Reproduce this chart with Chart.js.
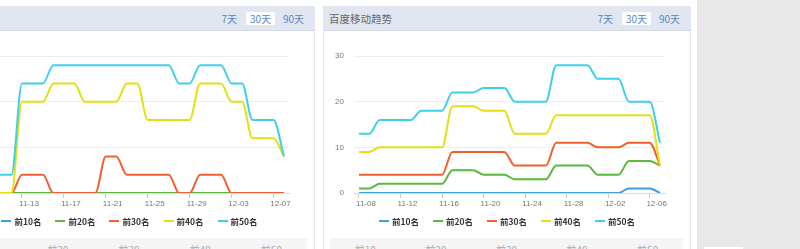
<!DOCTYPE html>
<html lang="zh">
<head>
<meta charset="utf-8">
<title>趋势</title>
<script src="https://cdn.jsdelivr.net/npm/chart.js@4.4.1/dist/chart.umd.min.js"></script>
<style>
  body { margin: 0; width: 800px; height: 249px; overflow: hidden; position: relative; background: #fff; font-family: "Noto Sans CJK SC", sans-serif; }
  .gray-side { position: absolute; left: 697px; top: 0; width: 103px; height: 249px; background: #e8e8e8; }
  .gray-side .tab { position: absolute; left: 7px; top: 247px; width: 39px; height: 10px; background: #fff; }
  .panel { position: absolute; top: 6px; height: 260px; background: #fff; box-shadow: inset 1px 0 #e4e8ee, inset -1px 0 #e4e8ee; }
  .head { position: absolute; left: 0; right: 0; top: 0; height: 24px; background: #e1e6f0; border-bottom: 1px solid #d3dae7; }
  .head .title { position: absolute; left: 6px; top: 0; line-height: 25px; font-size: 10.5px; color: #666; }
  .head .btn { position: absolute; top: 6px; height: 13px; line-height: 13px; font-size: 10px; color: #5b87c4; text-align: center; }
  .head .b7 { right: 78px; }
  .head .b30 { right: 40px; width: 29px; background: #fff; border-radius: 2px; }
  .head .b90 { right: 11px; }
  .panel canvas { position: absolute; left: 0; top: 25px; }
  .legend { position: absolute; left: 0; right: 0; top: 209px; height: 12px; display: flex; justify-content: center; align-items: center; font-size: 8.5px; font-weight: bold; color: #333; }
  .legend .item { display: flex; align-items: center; margin: 0 7px; }
  .legend i { display: inline-block; width: 10px; height: 2px; margin-right: 3px; }
  .foot { position: absolute; left: 7px; right: 8px; top: 232px; height: 30px; background: #f5f5f5; display: flex; }
  .foot div { flex: 1; text-align: center; font-size: 10px; color: #aaa; padding-top: 4px; }
</style>
</head>
<body>
<div class="panel" id="left-panel" style="left:-56px;width:371px;">
  <div class="head">
    <span class="title">百度趋势</span>
    <span class="btn b7">7天</span>
    <span class="btn b30">30天</span>
    <span class="btn b90">90天</span>
  </div>
  <canvas id="leftChart" width="371" height="185"></canvas>
  <div class="legend" id="left-legend"></div>
  <div class="foot"><div>前10</div><div>前20</div><div>前30</div><div>前40</div><div>前50</div></div>
</div>

<div class="panel" id="right-panel" style="left:323px;width:368px;">
  <div class="head">
    <span class="title">百度移动趋势</span>
    <span class="btn b7">7天</span>
    <span class="btn b30">30天</span>
    <span class="btn b90">90天</span>
  </div>
  <canvas id="rightChart" width="368" height="185"></canvas>
  <div class="legend" id="right-legend"></div>
  <div class="foot"><div>前10</div><div>前20</div><div>前30</div><div>前40</div><div>前50</div></div>
</div>

<div class="gray-side"><div class="tab"></div></div>

<script>
const seriesNames = ['前10名', '前20名', '前30名', '前40名', '前50名'];
const seriesColors = ['#3d9fe3', '#58b93e', '#f25f2c', '#e3df12', '#3dd0ea'];

const leftDates = ['11-09', '11-10', '11-11', '11-12', '11-13', '11-14', '11-15', '11-16', '11-17', '11-18',
    '11-19', '11-20', '11-21', '11-22', '11-23', '11-24', '11-25', '11-26', '11-27', '11-28',
    '11-29', '11-30', '12-01', '12-02', '12-03', '12-04', '12-05', '12-06', '12-07', '12-08'];
const rightDates = ['11-08', '11-09', '11-10', '11-11', '11-12', '11-13', '11-14', '11-15', '11-16', '11-17',
    '11-18', '11-19', '11-20', '11-21', '11-22', '11-23', '11-24', '11-25', '11-26', '11-27',
    '11-28', '11-29', '11-30', '12-01', '12-02', '12-03', '12-04', '12-05', '12-06', '12-07'];

const yTicks = [0, 10, 20, 30];
const xTickDays = [0, 4, 8, 12, 16, 20, 24, 28];

// left panel
const leftTop10 = [0, 0, 0, 0, 0, 0, 0, 0, 0, 0, 0, 0, 0, 0, 0, 0, 0, 0, 0, 0, 0, 0, 0, 0, 0, 0, 0, 0, 0, 0];
const leftTop20 = [0, 0, 0, 0, 0, 0, 0, 0, 0, 0, 0, 0, 0, 0, 0, 0, 0, 0, 0, 0, 0, 0, 0, 0, 0, 0, 0, 0, 0, 0];
const leftTop30 = [0, 0, 0, 0, 4, 4, 4, 0, 0, 0, 0, 0, 8, 8, 4, 4, 4, 4, 4, 0, 0, 4, 4, 4, 0, 0, 0, 0, 0, 0];
const leftTop40 = [0, 0, 0, 0, 20, 20, 20, 24, 24, 24, 20, 20, 20, 20, 24, 24, 16, 16, 16, 16, 16, 24, 24, 24, 20, 20, 12, 12, 12, 8];
const leftTop50 = [4, 4, 4, 4, 24, 24, 24, 28, 28, 28, 28, 28, 28, 28, 28, 28, 28, 28, 28, 24, 24, 28, 28, 28, 24, 24, 16, 16, 16, 8];

// right panel
const rightTop10 = [0, 0, 0, 0, 0, 0, 0, 0, 0, 0, 0, 0, 0, 0, 0, 0, 0, 0, 0, 0, 0, 0, 0, 0, 0, 0, 1, 1, 1, 0];
const rightTop20 = [1, 1, 2, 2, 2, 2, 2, 2, 2, 5, 5, 5, 4, 4, 4, 3, 3, 3, 3, 6, 6, 6, 6, 4, 4, 4, 7, 7, 7, 6];
const rightTop30 = [4, 4, 4, 4, 4, 4, 4, 4, 4, 9, 9, 9, 9, 9, 9, 6, 6, 6, 6, 11, 11, 11, 11, 10, 10, 10, 11, 11, 11, 6];
const rightTop40 = [9, 9, 10, 10, 10, 10, 10, 10, 10, 19, 19, 19, 18, 18, 18, 13, 13, 13, 13, 17, 17, 17, 17, 17, 17, 17, 17, 17, 17, 6];
const rightTop50 = [13, 13, 16, 16, 16, 16, 18, 18, 18, 22, 22, 22, 23, 23, 23, 20, 20, 20, 20, 28, 28, 28, 28, 25, 25, 25, 20, 20, 20, 11];

const tickFont = { family: 'Liberation Sans', size: 8 };

function buildLegend(id) {
    const box = document.getElementById(id);
    seriesNames.forEach((name, i) => {
        const item = document.createElement('span');
        item.className = 'item';
        item.innerHTML = '<i style="background:' + seriesColors[i] + '"></i>' + name;
        box.appendChild(item);
    });
}

function makeChart(canvasId, dates, series) {
    const ctx = document.getElementById(canvasId).getContext('2d');
    return new Chart(ctx, {
        type: 'line',
        data: {
            datasets: series.map((values, i) => ({
                label: seriesNames[i],
                data: values.map((v, day) => ({ x: day, y: v })),
                borderColor: seriesColors[i],
                backgroundColor: seriesColors[i],
                borderWidth: 2,
                pointRadius: 0,
                fill: false,
                cubicInterpolationMode: 'monotone',
                // later series on top, like the original
                order: series.length - 1 - i
            }))
        },
        options: {
            responsive: false,
            animation: false,
            events: [],
            layout: { padding: { top: 25, right: 26, left: 0, bottom: 0 } },
            plugins: {
                legend: { display: false },
                tooltip: { enabled: false }
            },
            scales: {
                x: {
                    type: 'linear',
                    min: -0.48,
                    max: dates.length - 1 + 0.48,
                    afterBuildTicks: (scale) => { scale.ticks = xTickDays.map(v => ({ value: v })); },
                    afterFit: (scale) => { scale.height = 23; },
                    grid: { drawOnChartArea: false, tickLength: 5, color: '#cccccc' },
                    border: { color: '#dddddd' },
                    ticks: {
                        callback: (value) => dates[value],
                        labelOffset: 7,
                        padding: 1,
                        maxRotation: 0,
                        autoSkip: false,
                        color: '#777',
                        font: tickFont
                    }
                },
                y: {
                    min: 0,
                    max: 30,
                    afterBuildTicks: (scale) => { scale.ticks = yTicks.map(v => ({ value: v })); },
                    afterFit: (scale) => { scale.width = 31; },
                    grid: { color: '#eeeeee', drawTicks: false },
                    border: { display: false },
                    ticks: { padding: 10, color: '#777', font: tickFont }
                }
            }
        }
    });
}

buildLegend('left-legend');
buildLegend('right-legend');
makeChart('leftChart', leftDates, [leftTop10, leftTop20, leftTop30, leftTop40, leftTop50]);
makeChart('rightChart', rightDates, [rightTop10, rightTop20, rightTop30, rightTop40, rightTop50]);
</script>
</body>
</html>
